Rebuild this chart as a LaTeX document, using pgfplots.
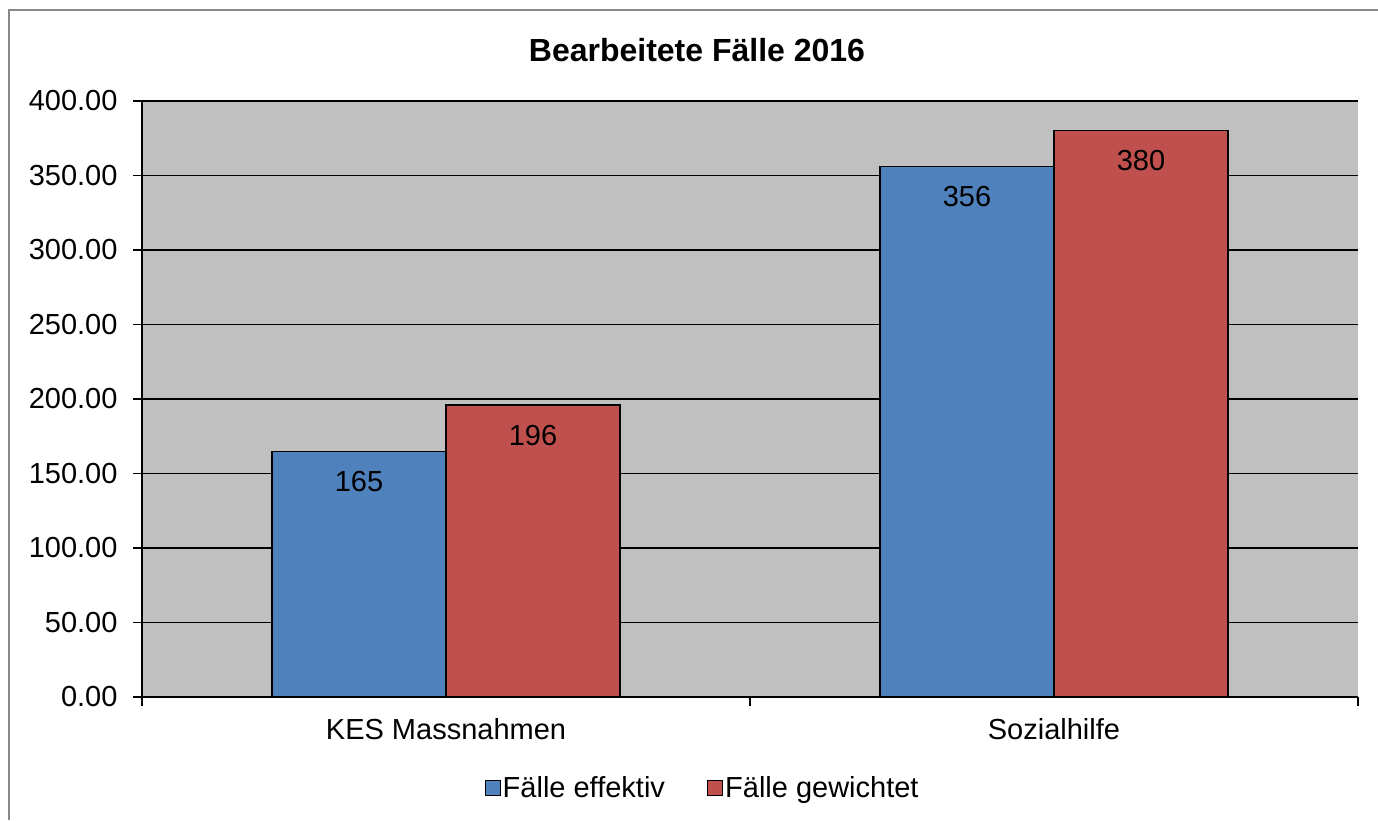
\documentclass[border=0pt]{standalone}
\usepackage{fontspec}
\setmainfont{Liberation Sans}
\usepackage{pgfplots}
\pgfplotsset{compat=1.18}
\definecolor{cblue}{HTML}{4F81BD}
\definecolor{cred}{HTML}{C0504D}
\definecolor{bggray}{HTML}{C0C0C0}
\definecolor{framegray}{HTML}{888888}
\begin{document}
\begin{tikzpicture}
\useasboundingbox (0pt,0pt) rectangle (1378pt,820pt);
\draw[framegray, line width=1.5pt] (9pt,0pt) -- (9pt,810pt) -- (1378pt,810pt);
\node[font=\fontsize{32}{37}\selectfont\bfseries] at (697pt,770pt) {Bearbeitete Fälle 2016};
\begin{axis}[
  at={(142pt,123pt)}, anchor=south west,
  scale only axis, width=1216pt, height=596pt,
  xmin=-0.5, xmax=1.5, ymin=0, ymax=400,
  ybar=0pt, bar width=174pt,
  axis background/.style={fill=bggray},
  axis x line*=bottom, axis y line*=left,
  axis line style={black, line width=1.2pt, -},
  xtick={-0.5,0.5,1.5}, xticklabels={},
  extra x ticks={0,1}, extra x tick labels={KES Massnahmen, Sozialhilfe},
  extra x tick style={major tick length=0pt},
  ytick={0,50,...,400},
  tick style={black, line width=1.2pt}, major tick length=9pt, tick align=outside,
  ymajorgrids, grid style={black, line width=1.2pt},
  yticklabel style={/pgf/number format/fixed, /pgf/number format/fixed zerofill, /pgf/number format/precision=2, /pgf/number format/assume math mode=true, xshift=-12pt},
  ticklabel style={font=\fontsize{29}{34}\selectfont},
  xticklabel style={yshift=-18pt},
  nodes near coords,
  every node near coord/.append style={font=\fontsize{29}{34}\selectfont, anchor=north, yshift=-16pt, /pgf/number format/fixed, /pgf/number format/precision=0, /pgf/number format/assume math mode=true, text=black},
  legend style={at={(0.461,-0.153)}, anchor=center, draw=none, fill=none, legend columns=2, font=\fontsize{29}{34}\selectfont, /tikz/every even column/.append style={column sep=40pt}},
  legend image code/.code={\draw[#1, draw=black, line width=1.2pt] (0pt,-7.5pt) rectangle (15pt,7.5pt);},
]
\addplot[fill=cblue, draw=black, line width=1.2pt] coordinates {(0,165) (1,356)};
\addplot[fill=cred, draw=black, line width=1.2pt] coordinates {(0,196) (1,380)};
\legend{Fälle effektiv, Fälle gewichtet}
\end{axis}
\end{tikzpicture}
\end{document}
